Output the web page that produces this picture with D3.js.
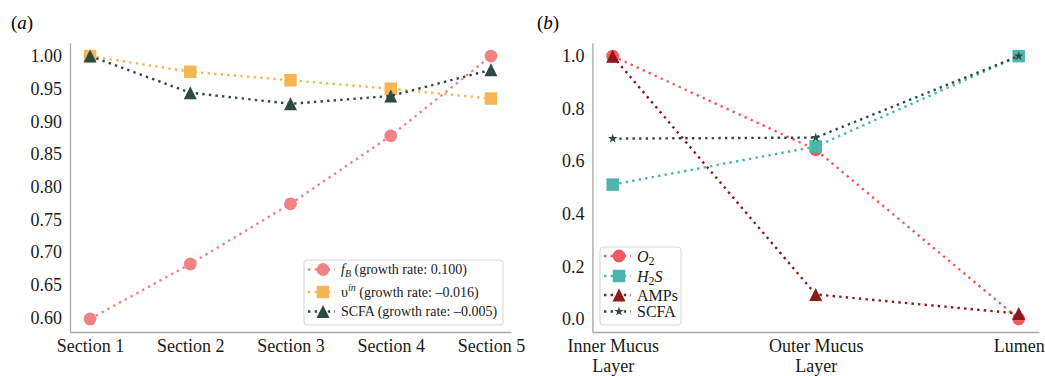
<!DOCTYPE html>
<html>
<head>
<meta charset="utf-8">
<script src="https://cdn.jsdelivr.net/npm/d3@7"></script>
<style>
  body { margin: 0; background: #fff; }
  svg { font-family: 'Liberation Serif', 'DejaVu Serif', serif; }
</style>
</head>
<body>
<div id="chart"></div>
<script>
// Panel (a) data
const sections = ['Section 1', 'Section 2', 'Section 3', 'Section 4', 'Section 5'];
const fB = [0.598, 0.682, 0.774, 0.878, 1.0];
const vIn = [1.0, 0.976, 0.963, 0.950, 0.935];
const scfaA = [1.0, 0.944, 0.927, 0.939, 0.979];
const ticksA = [0.60, 0.65, 0.70, 0.75, 0.80, 0.85, 0.90, 0.95, 1.00];

// Panel (b) data
const layers = ['Inner Mucus\nLayer', 'Outer Mucus\nLayer', 'Lumen'];
const o2 = [1.0, 0.644, 0.0];
const h2s = [0.511, 0.656, 1.0];
const amps = [1.0, 0.093, 0.02];
const scfaB = [0.686, 0.69, 1.0];
const ticksB = [0.0, 0.2, 0.4, 0.6, 0.8, 1.0];

const width = 1045;
const height = 376;

const svg = d3
  .select('#chart')
  .append('svg')
  .attr('width', width)
  .attr('height', height);

// matplotlib-like triangle (width == height)
const triangleUp = {
  draw(context, size) {
    const r = Math.sqrt(size) / 2;
    context.moveTo(0, -r);
    context.lineTo(r, r);
    context.lineTo(-r, r);
    context.closePath();
  },
};
// 5-point star
const star5 = {
  draw(context, size) {
    const R = Math.sqrt(size) / 2;
    const r0 = R * 0.382;
    for (let i = 0; i < 10; i++) {
      const rr = i % 2 === 0 ? R : r0;
      const a = -Math.PI / 2 + (i * Math.PI) / 5;
      const px = rr * Math.cos(a);
      const py = rr * Math.sin(a);
      if (i === 0) context.moveTo(px, py);
      else context.lineTo(px, py);
    }
    context.closePath();
  },
};

const markers = {
  circle: d3.symbol().type(d3.symbolCircle).size(Math.PI * 6.4 * 6.4),
  square: d3.symbol().type(d3.symbolSquare).size(12.5 * 12.5),
  triangle: d3.symbol().type(triangleUp).size(13 * 13),
  star: d3.symbol().type(star5).size(10 * 10),
};

function drawAxes(g, x, y, xTicks, xFormat, yTicks, yFormat) {
  const gx = g
    .append('g')
    .attr('transform', 'translate(0,' + y.range()[0] + ')')
    .call(
      d3.axisBottom(x).tickValues(xTicks).tickFormat(xFormat).tickSize(0).tickPadding(7),
    );
  const gy = g
    .append('g')
    .attr('transform', 'translate(' + x.range()[0] + ',0)')
    .call(
      d3.axisLeft(y).tickValues(yTicks).tickFormat(yFormat).tickSize(0).tickPadding(8),
    );
  [gx, gy].forEach((a) => {
    a.attr('font-family', null);
    a.select('.domain').attr('stroke', '#a6a6a6').attr('stroke-width', 1.3);
    a.selectAll('.tick text')
      .attr('fill', '#1a1a1a')
      .style('font-size', '18px');
  });
  // multi-line x labels
  gx.selectAll('.tick text').each(function (d) {
    const t = d3.select(this);
    const lines = String(xFormat(d)).split('\n');
    if (lines.length > 1) {
      t.text(null);
      lines.forEach((ln, i) => {
        t.append('tspan')
          .attr('x', 0)
          .attr('dy', i === 0 ? '0.71em' : '1.13em')
          .text(ln);
      });
      t.attr('dy', null);
    }
  });
}

function drawSeries(g, x, y, values, color, marker) {
  const line = d3
    .line()
    .x((d, i) => x(i))
    .y((d) => y(d));
  g.append('path')
    .datum(values)
    .attr('d', line)
    .attr('fill', 'none')
    .attr('stroke', color)
    .attr('stroke-width', 2.4)
    .attr('stroke-dasharray', '2.4,4.2');
  g.selectAll(null)
    .data(values)
    .enter()
    .append('path')
    .attr('d', markers[marker])
    .attr('transform', (d, i) => 'translate(' + x(i) + ',' + y(d) + ')')
    .attr('fill', color);
}

function drawLegend(g, items, box, rows, fontSize) {
  const small = Math.round(fontSize * 0.72);
  g.append('rect')
    .attr('x', box.x)
    .attr('y', box.y)
    .attr('width', box.w)
    .attr('height', box.h)
    .attr('rx', 3)
    .attr('fill', 'white')
    .attr('fill-opacity', 0.85)
    .attr('stroke', '#d6d6d6')
    .attr('stroke-width', 1);
  items.forEach((it, i) => {
    const cy = rows[i];
    const mx = box.x + 19;
    g.append('line')
      .attr('x1', box.x + 4)
      .attr('x2', box.x + 31)
      .attr('y1', cy)
      .attr('y2', cy)
      .attr('stroke', it.color)
      .attr('stroke-width', 2.4)
      .attr('stroke-dasharray', '2.4,4.2');
    g.append('path')
      .attr('d', markers[it.marker])
      .attr('transform', 'translate(' + mx + ',' + cy + ')')
      .attr('fill', it.color);
    const t = g
      .append('text')
      .attr('x', box.x + 37)
      .attr('y', cy)
      .attr('dy', '0.35em')
      .style('font-size', fontSize + 'px')
      .attr('fill', '#1a1a1a');
    it.label.forEach((part) => {
      const ts = t.append('tspan').text(part.t);
      if (part.italic) ts.style('font-style', 'italic');
      if (part.sub) ts.attr('dy', fontSize * 0.22).style('font-size', small + 'px');
      if (part.sup) ts.attr('dy', -fontSize * 0.42).style('font-size', small + 'px');
      if (part.back) ts.attr('dy', part.back * fontSize);
    });
  });
}

// ---------------- Panel (a)
const gA = svg.append('g');
const xA = d3.scaleLinear().domain([-0.2, 4.2]).range([70, 511]);
const yA = d3.scaleLinear().domain([0.578, 1.02]).range([332, 43]);

drawAxes(gA, xA, yA, [0, 1, 2, 3, 4], (i) => sections[i], ticksA, d3.format('.2f'));

const colFB = '#f08283';
const colV = '#f5b756';
const colScfa = '#2f4a44';

drawSeries(gA, xA, yA, fB, colFB, 'circle');
drawSeries(gA, xA, yA, vIn, colV, 'square');
drawSeries(gA, xA, yA, scfaA, colScfa, 'triangle');

drawLegend(
  gA,
  [
    {
      color: colFB,
      marker: 'circle',
      label: [
        { t: 'f', italic: true },
        { t: 'B', italic: true, sub: true },
        { t: ' (growth rate: 0.100)', back: -0.22 },
      ],
    },
    {
      color: colV,
      marker: 'square',
      label: [
        { t: 'υ' },
        { t: 'in', italic: true, sup: true },
        { t: ' (growth rate: \u20130.016)', back: 0.42 },
      ],
    },
    {
      color: colScfa,
      marker: 'triangle',
      label: [{ t: 'SCFA (growth rate: \u20130.005)' }],
    },
  ],
  { x: 304, y: 260, w: 199, h: 65 },
  [269.5, 292, 311.5],
  14,
);

svg.append('text')
  .attr('x', 11)
  .attr('y', 29)
  .style('font-size', '19px')
  .html('(<tspan font-style="italic">a</tspan>)');

// ---------------- Panel (b)
const gB = svg.append('g');
const xB = d3.scaleLinear().domain([-0.1, 2.1]).range([592.4, 1039]);
const yB = d3.scaleLinear().domain([-0.05, 1.05]).range([332, 43]);

drawAxes(gB, xB, yB, [0, 1, 2], (i) => layers[i], ticksB, d3.format('.1f'));

const colO2 = '#f15b60';
const colH2s = '#4cb6ab';
const colAmps = '#8c1a1c';
const colScfaB = '#2f4a44';

drawSeries(gB, xB, yB, o2, colO2, 'circle');
drawSeries(gB, xB, yB, h2s, colH2s, 'square');
drawSeries(gB, xB, yB, amps, colAmps, 'triangle');
drawSeries(gB, xB, yB, scfaB, colScfaB, 'star');

drawLegend(
  gB,
  [
    {
      color: colO2,
      marker: 'circle',
      label: [{ t: 'O', italic: true }, { t: '2', sub: true }],
    },
    {
      color: colH2s,
      marker: 'square',
      label: [
        { t: 'H', italic: true },
        { t: '2', sub: true },
        { t: 'S', italic: true, back: -0.22 },
      ],
    },
    { color: colAmps, marker: 'triangle', label: [{ t: 'AMPs' }] },
    { color: colScfaB, marker: 'star', label: [{ t: 'SCFA' }] },
  ],
  { x: 600, y: 247, w: 81, h: 78 },
  [256, 276, 295, 311.5],
  16,
);

svg.append('text')
  .attr('x', 537)
  .attr('y', 29)
  .style('font-size', '19px')
  .html('(<tspan font-style="italic">b</tspan>)');
</script>
</body>
</html>
